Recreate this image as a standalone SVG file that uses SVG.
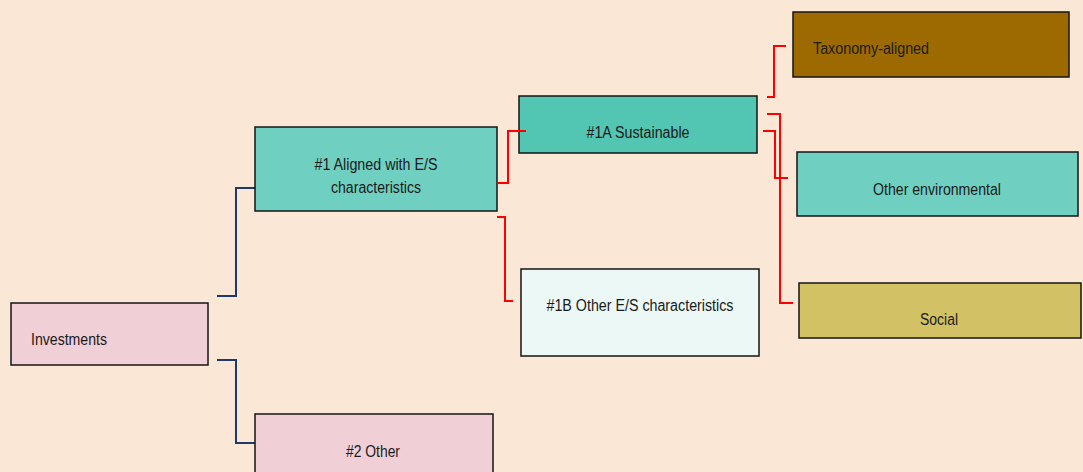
<svg xmlns="http://www.w3.org/2000/svg" width="1083" height="472" viewBox="0 0 1083 472">
<style>
.box{stroke:#151515;stroke-width:1.5}
.t{font-family:"Liberation Sans",Arial,sans-serif;font-size:16px;fill:#1a1a1a}
.c{text-anchor:middle}
.blue{fill:none;stroke:#1f3a68;stroke-width:2}
.red{fill:none;stroke:#ff0000;stroke-width:2}
</style>
<rect width="1083" height="472" fill="#fae7d5"/>
<g id="connectors">
<polyline class="blue" points="217,296 236,296 236,188 255,188"/>
<polyline class="blue" points="217,360 236,360 236,443 255,443"/>
</g>
<g id="investments"><rect class="box" x="11" y="303" width="197" height="62" fill="#f0cfd7"/><text class="t" x="31" y="345" textLength="76" lengthAdjust="spacingAndGlyphs">Investments</text></g>
<g id="aligned"><rect class="box" x="255" y="127" width="242" height="84" fill="#6fd0c1"/><text class="t c" x="376" y="170" textLength="123" lengthAdjust="spacingAndGlyphs">#1 Aligned with E/S</text><text class="t c" x="376" y="193" textLength="90" lengthAdjust="spacingAndGlyphs">characteristics</text></g>
<g id="other2"><rect class="box" x="255" y="414" width="238" height="70" fill="#f0cfd7"/><text class="t c" x="373" y="457" textLength="54" lengthAdjust="spacingAndGlyphs">#2 Other</text></g>
<g id="sustainable"><rect class="box" x="519" y="96" width="238" height="57" fill="#52c6b3"/><text class="t c" x="638" y="138" textLength="103" lengthAdjust="spacingAndGlyphs">#1A Sustainable</text></g>
<g id="otheres"><rect class="box" x="521" y="269" width="238" height="87" fill="#ebf8f6"/><text class="t c" x="640" y="311" textLength="187" lengthAdjust="spacingAndGlyphs">#1B Other E/S characteristics</text></g>
<g id="taxonomy"><rect class="box" x="793" y="12" width="276" height="65" fill="#9c6a00"/><text class="t" x="813" y="54" textLength="116" lengthAdjust="spacingAndGlyphs">Taxonomy-aligned</text></g>
<g id="otherenv"><rect class="box" x="797" y="152" width="281" height="64" fill="#6fd0c1"/><text class="t c" x="937" y="195" textLength="128" lengthAdjust="spacingAndGlyphs">Other environmental</text></g>
<g id="social"><rect class="box" x="799" y="283" width="282" height="55" fill="#d2c265"/><text class="t c" x="939" y="325" textLength="38" lengthAdjust="spacingAndGlyphs">Social</text></g>
<g id="connectors-red">
<polyline class="red" points="497,183 508,183 508,131 526,131"/>
<polyline class="red" points="497,217 505,217 505,301 513,301"/>
<polyline class="red" points="767,97 774,97 774,46 786,46"/>
<polyline class="red" points="763,131 775,131 775,178 788,178"/>
<polyline class="red" points="767,114 780,114 780,303 793,303"/>
</g>
</svg>
